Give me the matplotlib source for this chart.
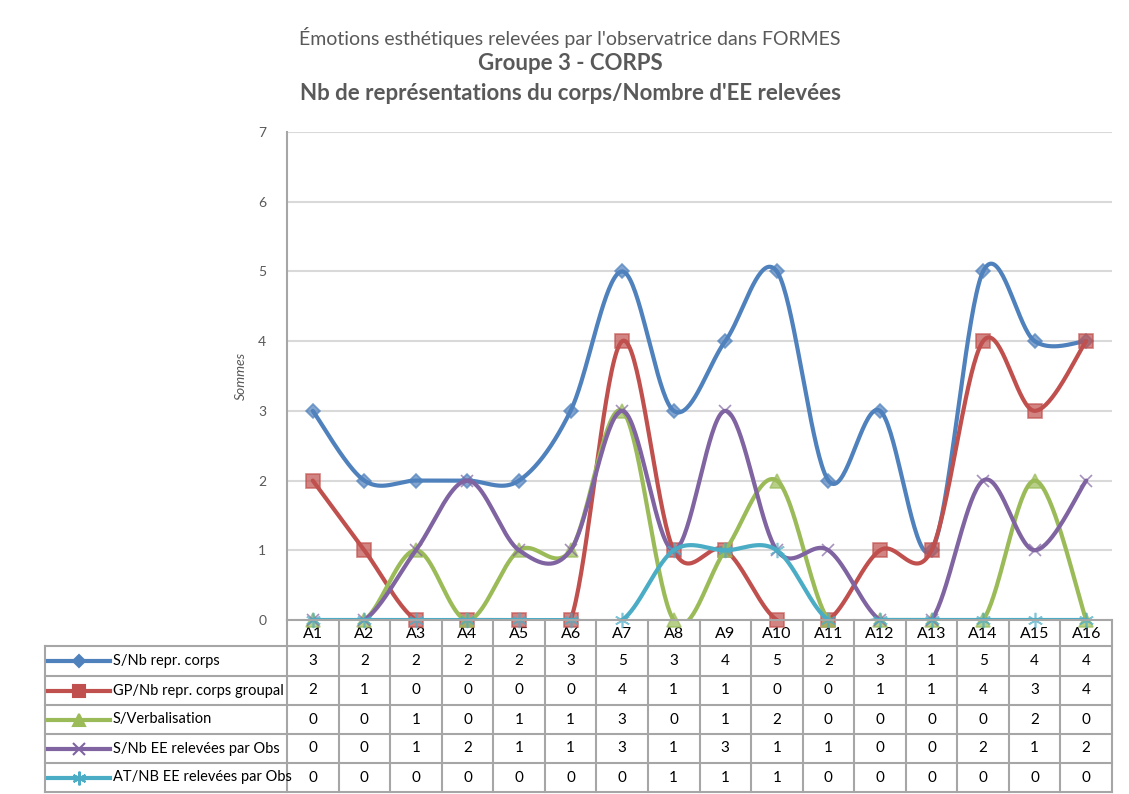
import numpy as np
import matplotlib.pyplot as plt
from matplotlib.transforms import blended_transform_factory

categories = ["A1", "A2", "A3", "A4", "A5", "A6", "A7", "A8",
              "A9", "A10", "A11", "A12", "A13", "A14", "A15", "A16"]
s_corps = [3, 2, 2, 2, 2, 3, 5, 3, 4, 5, 2, 3, 1, 5, 4, 4]
gp_corps = [2, 1, 0, 0, 0, 0, 4, 1, 1, 0, 0, 1, 1, 4, 3, 4]
s_verb = [0, 0, 1, 0, 1, 1, 3, 0, 1, 2, 0, 0, 0, 0, 2, 0]
s_ee = [0, 0, 1, 2, 1, 1, 3, 1, 3, 1, 1, 0, 0, 2, 1, 2]
at_ee = [0, 0, 0, 0, 0, 0, 0, 1, 1, 1, 0, 0, 0, 0, 0, 0]

series = [
    ("S/Nb repr. corps", s_corps, "#4F81BD", "D", 7),
    ("GP/Nb repr. corps groupal", gp_corps, "#C0504D", "s", 10),
    ("S/Verbalisation", s_verb, "#9BBB59", "^", 10),
    ("S/Nb EE relevées par Obs", s_ee, "#8064A2", "x", 9),
    ("AT/NB EE relevées par Obs", at_ee, "#4BACC6", (6, 2, 0), 11),
]

W, H = 1129, 794
FONT = "Lato"
GREY = "#595959"
GRID = "#A6A6A6"


def smooth(vals, n=40):
    # Excel-like smoothed line (Catmull-Rom bezier)
    pts = np.column_stack([np.arange(len(vals)), vals]).astype(float)
    pad = np.vstack([pts[0], pts, pts[-1]])
    t = np.linspace(0, 1, n)[:, None]
    segs = []
    for i in range(len(pts) - 1):
        p0, p1, p2, p3 = pad[i], pad[i + 1], pad[i + 2], pad[i + 3]
        c1 = p1 + (p2 - p0) / 6
        c2 = p2 - (p3 - p1) / 6
        segs.append((1 - t) ** 3 * p1 + 3 * (1 - t) ** 2 * t * c1
                    + 3 * (1 - t) * t ** 2 * c2 + t ** 3 * p2)
    return np.vstack(segs)


def fx(px):
    return px / W


def fy(py):
    return 1 - py / H


fig = plt.figure(figsize=(W / 100, H / 100), dpi=100)
left, right, top, bottom = 287, 1112, 132, 620
ax = fig.add_axes([fx(left), fy(bottom), fx(right - left), (bottom - top) / H])

x = np.arange(len(categories))
for i, (name, vals, col, mk, ms) in enumerate(series):
    c = smooth(vals)
    ax.plot(c[:, 0], c[:, 1], color=col, lw=3, zorder=3 + i,
            solid_capstyle="round")
    ax.plot(x, vals, ls="none", marker=mk, ms=ms, color=col, mec=col,
            mew=1.2, alpha=0.7, clip_on=False, zorder=3 + i)

ax.set_xlim(-0.5, len(categories) - 0.5)
ax.set_ylim(0, 7)
ax.set_yticks(range(8))
ax.set_xticks([])
ax.yaxis.grid(True, color="#D9D9D9", lw=1.5)
ax.set_axisbelow(True)
for s in ["top", "right", "bottom"]:
    ax.spines[s].set_visible(False)
ax.spines["left"].set_color(GRID)
ax.spines["left"].set_linewidth(1.5)
ax.tick_params(axis="y", length=0, pad=15, labelsize=10, labelcolor=GREY)
for lab in ax.get_yticklabels():
    lab.set_fontfamily(FONT)
ax.set_ylabel("Sommes", fontsize=10, style="italic", color=GREY,
              family=FONT, labelpad=8)

# titles
fig.text(fx(570), fy(37), "Émotions esthétiques relevées par l'observatrice dans FORMES",
         ha="center", va="center", fontsize=14, color=GREY, family=FONT)
fig.text(fx(570), fy(64), "Groupe 3 - CORPS", ha="center", va="center",
         fontsize=16, color=GREY, family=FONT, weight="bold")
fig.text(fx(570), fy(93), "Nb de représentations du corps/Nombre d'EE relevées",
         ha="center", va="center", fontsize=16, color=GREY, family=FONT,
         weight="bold")

# data table under the chart
tr = blended_transform_factory(ax.transData, fig.transFigure)
rows = [620, 646, 676, 705, 734, 763, 792]
tl = 45
for xb in np.arange(-0.5, len(categories), 1.0):
    ax.plot([xb, xb], [fy(rows[0]), fy(rows[-1])], color=GRID, lw=1.5,
            transform=tr, clip_on=False)
fig.add_artist(plt.Line2D([fx(tl), fx(tl)], [fy(rows[1]), fy(rows[-1])],
                          color=GRID, lw=1.5))
for k, ry in enumerate(rows):
    x0 = left if k == 0 else tl
    fig.add_artist(plt.Line2D([fx(x0), fx(right)], [fy(ry), fy(ry)],
                              color=GRID, lw=1.5))

for j, cat in enumerate(categories):
    ax.text(j, fy((rows[0] + rows[1]) / 2 + 1), cat, transform=tr,
            ha="center", va="center", fontsize=11.5, family=FONT, color="black")
for r, (name, vals, col, mk, ms) in enumerate(series):
    yc = fy((rows[r + 1] + rows[r + 2]) / 2)
    fig.add_artist(plt.Line2D([fx(48), fx(110)], [yc, yc], color=col, lw=3))
    fig.add_artist(plt.Line2D([fx(79)], [yc], marker=mk, ms=ms * 0.9,
                              color=col, mec=col, mew=1.5, ls="none"))
    fig.text(fx(113), yc, name, ha="left", va="center", fontsize=10.5,
             family=FONT, color="black")
    for j, v in enumerate(vals):
        ax.text(j, yc, str(v), transform=tr, ha="center", va="center",
                fontsize=11, family=FONT, color="black")

fig.savefig("out.png", dpi=100)
